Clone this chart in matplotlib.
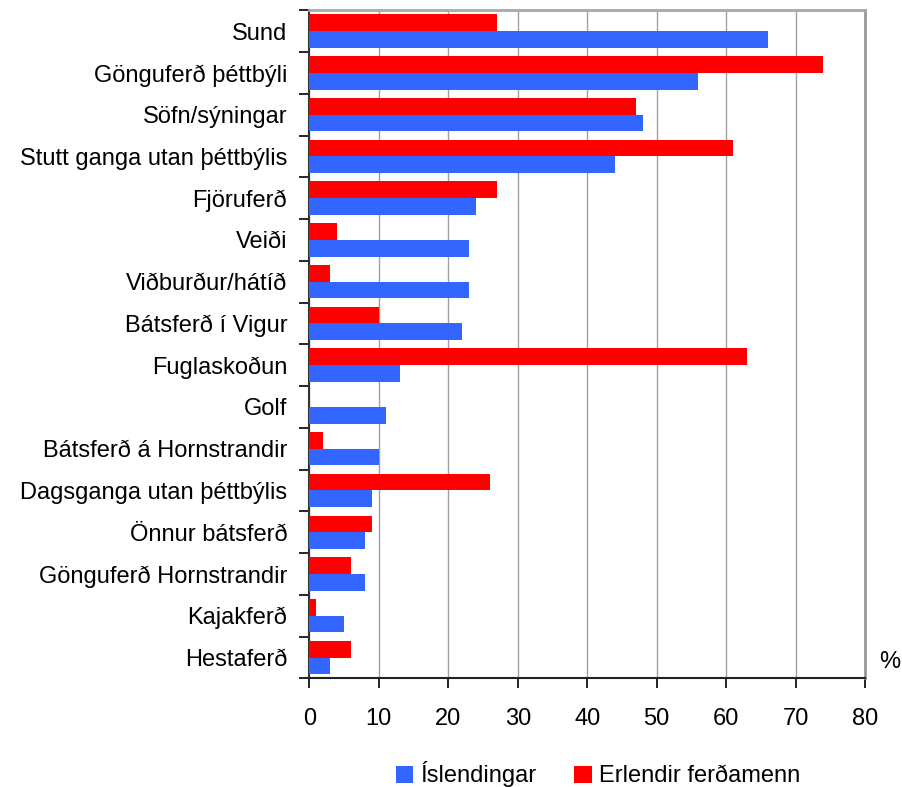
import matplotlib.pyplot as plt
import numpy as np

plt.rcParams['font.family'] = ['Liberation Sans', 'DejaVu Sans']

categories = ["Sund", "Gönguferð þéttbýli", "Söfn/sýningar", "Stutt ganga utan þéttbýlis",
              "Fjöruferð", "Veiði", "Viðburður/hátíð", "Bátsferð í Vigur", "Fuglaskoðun",
              "Golf", "Bátsferð á Hornstrandir", "Dagsganga utan þéttbýlis", "Önnur bátsferð",
              "Gönguferð Hornstrandir", "Kajakferð", "Hestaferð"]
islendingar = [66, 56, 48, 44, 24, 23, 23, 22, 13, 11, 10, 9, 8, 8, 5, 3]
erlendir = [27, 74, 47, 61, 27, 4, 3, 10, 63, 0, 2, 26, 9, 6, 1, 6]
xticks = [0, 10, 20, 30, 40, 50, 60, 70, 80]

fig = plt.figure(figsize=(9.02, 7.87), dpi=100)
ax = fig.add_axes([0.343, 0.138, 0.616, 0.849])

y = np.arange(len(categories))
h = 0.4
ax.barh(y + h / 2, islendingar, height=h, color='#3366FF', label='Íslendingar', zorder=3)
ax.barh(y - h / 2, erlendir, height=h, color='#FF0000', label='Erlendir ferðamenn', zorder=3)

ax.set_xlim(0, 80)
ax.set_ylim(len(categories) - 0.5, -0.5)
ax.set_xticks(xticks)
ax.set_xticklabels([str(t) for t in xticks], fontsize=17)
ax.tick_params(axis='x', direction='out', length=7, width=1.2, pad=14, color='black')

# ticks between categories, labels on the categories
ax.set_yticks(np.arange(len(categories) + 1) - 0.5)
ax.set_yticklabels([])
ax.set_yticks(y, minor=True)
ax.set_yticklabels(categories, minor=True, fontsize=17)
ax.tick_params(axis='y', which='major', direction='out', length=7, width=1.2, color='black')
ax.tick_params(axis='y', which='minor', length=0, pad=16)

ax.xaxis.grid(True, color='#a0a0a0', linewidth=1.0, zorder=0)
ax.set_axisbelow(True)

ax.spines['left'].set_color('#333333')
ax.spines['left'].set_linewidth(1.5)
ax.spines['bottom'].set_color('#222222')
ax.spines['bottom'].set_linewidth(1.5)
ax.spines['top'].set_color('#a8a8a8')
ax.spines['top'].set_linewidth(2)
ax.spines['right'].set_color('#999999')
ax.spines['right'].set_linewidth(2)

fig.text(0.986, 0.159, '%', fontsize=17, ha='center', va='center')

fig.legend(loc='center', bbox_to_anchor=(0.663, 0.016), ncol=2, frameon=False,
           fontsize=17, handlelength=0.75, handleheight=0.75, handletextpad=0.3,
           columnspacing=1.6, borderaxespad=0)

fig.savefig('out.png', dpi=100)
